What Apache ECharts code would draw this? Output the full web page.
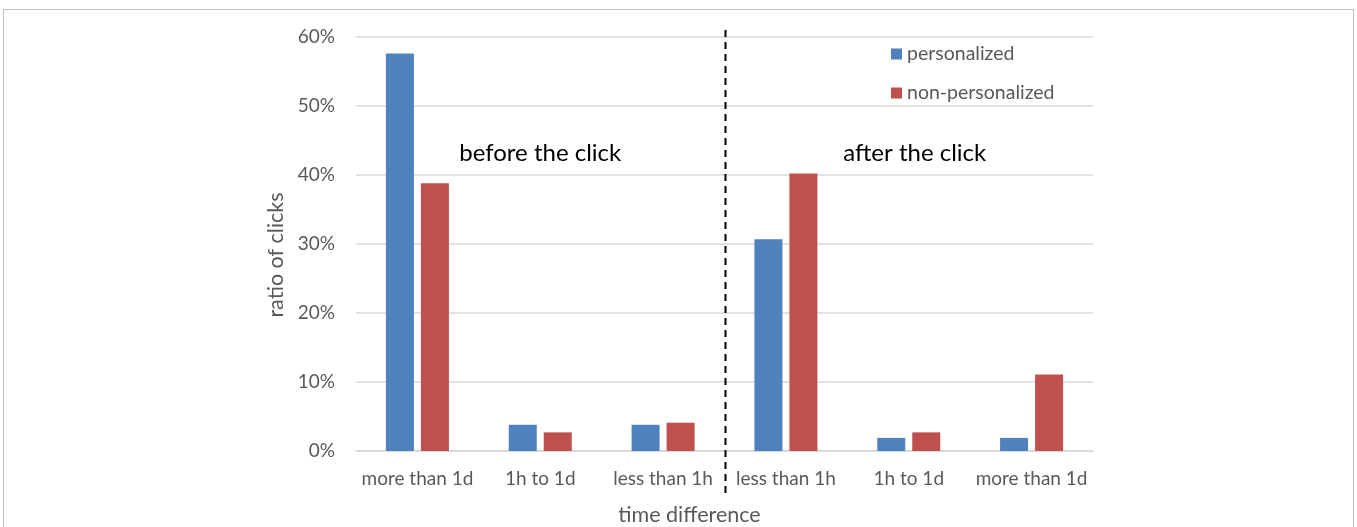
<!DOCTYPE html>
<html>
<head>
<meta charset="utf-8">
<script src="https://cdn.jsdelivr.net/npm/echarts@6/dist/echarts.min.js"></script>
<style>
  html, body { margin: 0; padding: 0; background: #fff; }
  #chart { width: 1357px; height: 527px; }
</style>
</head>
<body>
<div id="chart"></div>
<script>
// Click timing relative to the clicked item (percent of clicks)
const categories = ['more than 1d', '1h to 1d', 'less than 1h', 'less than 1h ', '1h to 1d ', 'more than 1d '];
const personalized = [57.6, 3.8, 3.8, 30.7, 1.9, 1.9];
const nonPersonalized = [38.8, 2.7, 4.1, 40.2, 2.7, 11.1];
const yTicks = [0, 10, 20, 30, 40, 50, 60];
const phaseLabels = ['before the click', 'after the click'];

const FONT = 'Lato, "Open Sans", sans-serif';
const chart = echarts.init(document.getElementById('chart'), null, { renderer: 'canvas' });

const grid = { left: 356, right: 264, top: 37, bottom: 76, outerBoundsMode: 'none', containLabel: false };

chart.setOption({
  animation: false,
  textStyle: { fontFamily: FONT },
  legend: {
    orient: 'vertical',
    left: 886,
    top: 39,
    itemWidth: 11,
    itemHeight: 11,
    itemGap: 19,
    icon: 'rect',
    textStyle: { fontFamily: FONT, fontSize: 19.5, color: '#595959' },
    data: ['personalized', 'non-personalized']
  },
  grid: grid,
  xAxis: {
    type: 'category',
    data: categories,
    name: 'time difference',
    nameLocation: 'middle',
    nameGap: 53,
    nameTextStyle: { fontFamily: FONT, fontSize: 21.5, color: '#595959', padding: [0, 70, 0, 0] },
    axisLine: { lineStyle: { color: '#d9d9d9', width: 1.5 } },
    axisTick: { show: false },
    axisLabel: { interval: 0, fontFamily: FONT, fontSize: 19, color: '#595959', margin: 18,
      formatter: v => v.trim() },
    splitLine: { show: false }
  },
  yAxis: {
    type: 'value',
    min: 0,
    max: 60,
    interval: 10,
    name: 'ratio of clicks',
    nameLocation: 'middle',
    nameGap: 55,
    nameTextStyle: { fontFamily: FONT, fontSize: 21.5, color: '#595959', padding: [0, 22, 0, 0] },
    axisLine: { show: false },
    axisTick: { show: false },
    axisLabel: { fontFamily: FONT, fontSize: 19, color: '#595959', margin: 21,
      formatter: v => yTicks.includes(v) ? v + '%' : '' },
    splitLine: { lineStyle: { color: '#d9d9d9', width: 1.5 } }
  },
  series: [
    {
      name: 'personalized',
      type: 'bar',
      data: personalized,
      barWidth: 28,
      barGap: '25%',
      itemStyle: { color: '#4f81bd' }
    },
    {
      name: 'non-personalized',
      type: 'bar',
      data: nonPersonalized,
      barWidth: 28,
      itemStyle: { color: '#c0504d' }
    }
  ]
});

// Divider between the "before" and "after" groups, midway between the
// third and fourth category positions, plus the two group captions.
const px = i => chart.convertToPixel({ xAxisIndex: 0 }, categories[i]);
const xDiv = Math.round((px(2) + px(3)) / 2) + 0.5;
const yCaption = chart.convertToPixel({ yAxisIndex: 0 }, 43.1);
chart.setOption({
  graphic: [
    {
      type: 'rect',
      shape: { x: 3.5, y: 9.5, width: 1350, height: 530 },
      style: { fill: 'none', stroke: '#bfbfbf', lineWidth: 1 },
      silent: true, z: -10
    },
    {
      type: 'line',
      shape: { x1: xDiv, y1: 30, x2: xDiv, y2: 495 },
      style: { stroke: '#000', lineWidth: 2, lineDash: [7, 5] },
      silent: true, z: 10
    },
    {
      type: 'text',
      x: px(1), y: yCaption,
      style: { text: phaseLabels[0], fill: '#000', font: '24px ' + FONT,
        align: 'center', verticalAlign: 'middle' },
      silent: true, z: 10
    },
    {
      type: 'text',
      x: px(4) + 6, y: yCaption,
      style: { text: phaseLabels[1], fill: '#000', font: '24px ' + FONT,
        align: 'center', verticalAlign: 'middle' },
      silent: true, z: 10
    }
  ]
});
</script>
</body>
</html>
